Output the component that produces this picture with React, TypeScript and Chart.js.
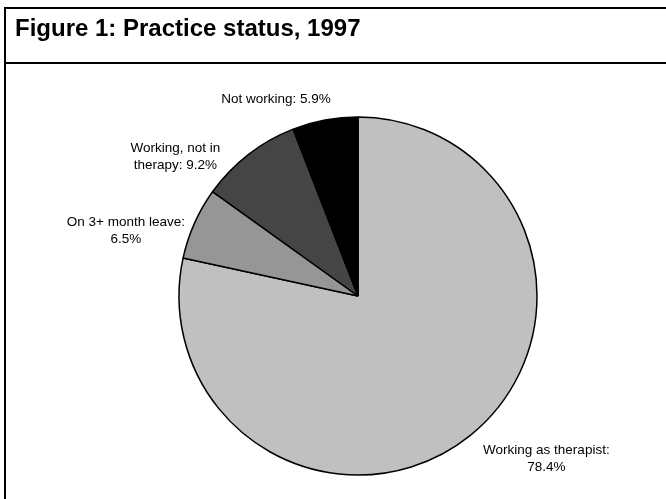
import React, { useEffect, useRef } from "react";
import { Chart, registerables } from "chart.js";

Chart.register(...registerables);

const categories = ["Working as therapist", "On 3+ month leave", "Working, not in therapy", "Not working"];
const values = [78.4, 6.5, 9.2, 5.9];
const labelLines = [
  ["Working as therapist:", "78.4%"],
  ["On 3+ month leave:", "6.5%"],
  ["Working, not in", "therapy: 9.2%"],
  ["Not working: 5.9%"],
];
const sliceColors = ["#c0c0c0", "#969696", "#454545", "#000000"];
// label offsets from each slice's outer edge point at its mid angle (style only)
const labelOffsets = [
  [76, 23.5],
  [-68.5, 7.5],
  [-73, 2],
  [-49, -21],
];

const FONT = "'Liberation Sans', Arial, Helvetica, sans-serif";

const labelPlugin = {
  id: "outsideLabels",
  afterDraw(chart: any) {
    const ctx = chart.ctx;
    const meta = chart.getDatasetMeta(0);
    ctx.save();
    ctx.font = `13.5px ${FONT}`;
    ctx.fillStyle = "#000";
    ctx.textAlign = "center";
    ctx.textBaseline = "middle";
    const lh = 17.5;
    meta.data.forEach((arc: any, i: number) => {
      const { x, y, outerRadius, startAngle, endAngle } = arc.getProps(
        ["x", "y", "outerRadius", "startAngle", "endAngle"],
        true
      );
      const mid = (startAngle + endAngle) / 2;
      const ex = x + Math.cos(mid) * outerRadius;
      const ey = y + Math.sin(mid) * outerRadius;
      const cx = ex + labelOffsets[i][0];
      const cy = ey + labelOffsets[i][1];
      const lines = labelLines[i];
      const y0 = cy - ((lines.length - 1) * lh) / 2;
      lines.forEach((t, k) => ctx.fillText(t, cx, y0 + k * lh));
    });
    ctx.restore();
  },
};

export default function App() {
  const ref = useRef<HTMLCanvasElement | null>(null);
  useEffect(() => {
    if (!ref.current) return;
    const chart = new Chart(ref.current, {
      type: "pie",
      data: {
        labels: categories,
        datasets: [
          {
            data: values,
            backgroundColor: sliceColors,
            borderColor: "#000",
            borderWidth: 1.5,
          },
        ],
      },
      options: {
        responsive: false,
        animation: false,
        devicePixelRatio: 1,
        layout: { padding: { top: 116.25, bottom: 23.25, left: 158, right: 108 } },
        plugins: {
          legend: { display: false },
          tooltip: { enabled: false },
          title: { display: false },
        },
      },
      plugins: [labelPlugin],
    });
    return () => chart.destroy();
  }, []);

  return (
    <div
      style={{
        position: "fixed",
        left: 0,
        top: 0,
        width: 666,
        height: 499,
        background: "#fff",
        overflow: "hidden",
      }}
    >
      <canvas ref={ref} width={666} height={499} style={{ position: "absolute", left: 0, top: 0 }} />
      <div style={{ position: "absolute", left: 4, top: 7, width: 800, height: 2, background: "#000" }} />
      <div style={{ position: "absolute", left: 4, top: 7, width: 2, height: 600, background: "#000" }} />
      <div style={{ position: "absolute", left: 4, top: 62, width: 800, height: 2, background: "#000" }} />
      <div
        style={{
          position: "absolute",
          left: 15,
          top: 14,
          fontFamily: FONT,
          fontWeight: "bold",
          fontSize: 24,
          lineHeight: "28px",
          color: "#000",
          whiteSpace: "nowrap",
        }}
      >
        Figure 1: Practice status, 1997
      </div>
    </div>
  );
}
